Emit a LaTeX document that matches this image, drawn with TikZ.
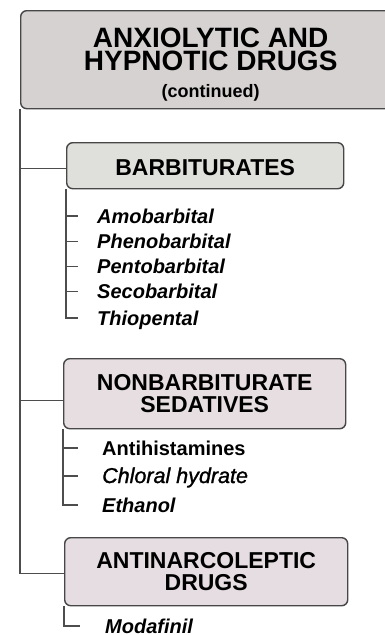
\documentclass[tikz,border=0pt]{standalone}
\usepackage{fontspec}
\setmainfont{Liberation Sans}
\newfontface\chloralface{Liberation Sans Italic}[FakeBold=1.2]
\usetikzlibrary{positioning}

\definecolor{titlegray}{HTML}{D6D2D2}
\definecolor{barbfill}{HTML}{DFDFDB}
\definecolor{nonbfill}{HTML}{E7DEE2}
\definecolor{antifill}{HTML}{E6DDE2}
\definecolor{boxedge}{HTML}{474747}
\definecolor{linegray}{HTML}{4D4D4D}

\begin{document}
\begin{tikzpicture}[x=1pt, y=-1pt,
    grp/.style={draw=boxedge, line width=1.4pt, rounded corners=6pt, anchor=north west,
      align=center, font=\bfseries\fontsize{23}{22}\selectfont},
    drug/.style={anchor=west, inner sep=0pt, text height=14pt, text depth=0pt,
      font=\bfseries\itshape\fontsize{20}{24}\selectfont},
    link/.style={draw=linegray, line width=1.3pt}
  ]
  \useasboundingbox[fill=white] (0,0) rectangle (384,635);

  % heading box, runs off the right edge
  \node[grp, fill=titlegray, minimum width=380pt, minimum height=98pt,
    font=\bfseries\fontsize{28}{23.5}\selectfont] (title) at (20,10)
    {\rule{0pt}{29pt}ANXIOLYTIC AND\\HYPNOTIC DRUGS\\[3.5pt]{\fontsize{18}{20}\selectfont(continued)}};

  % groups
  \node[grp, fill=barbfill, minimum width=277pt, minimum height=46pt,
    text height=20pt, text depth=0pt] (barb) at (66,142) {BARBITURATES};
  \node[grp, fill=nonbfill, minimum width=282pt, minimum height=70pt] (nonbarb) at (63,358)
    {NONBARBITURATE\\SEDATIVES};
  \node[grp, fill=antifill, minimum width=283pt, minimum height=68pt] (antinarc) at (64,537)
    {ANTINARCOLEPTIC\\DRUGS};

  % drugs
  \node[drug] (amob) at (97,216) {Amobarbital};
  \node[drug] (pheno) at (97,241.5) {Phenobarbital};
  \node[drug] (pento) at (97,266.5) {Pentobarbital};
  \node[drug] (seco) at (97,291.5) {Secobarbital};
  \node[drug] (thio) at (97,318) {Thiopental};

  \node[drug, font=\bfseries\fontsize{20}{24}\selectfont] (antih) at (102,448) {Antihistamines};
  \node[drug, font=\chloralface\fontsize{21.5}{24}\selectfont] (chloral) at (102,476) {Chloral hydrate};
  \node[drug] (ethanol) at (102,505) {Ethanol};

  \node[drug] (modaf) at (105,626) {Modafinil};

  % trunk
  \draw[link] (title.south west) |- ([yshift=-3pt]barb.west);
  \draw[link] (title.south west) |- ([yshift=-7pt]nonbarb.west);
  \draw[link] (title.south west) |- ([yshift=-2pt]antinarc.west);

  % branches
  \draw[link] (barb.south west) |- ([xshift=-19pt]thio.west);
  \foreach \d in {amob,pheno,pento,seco}
    \draw[link] (\d.west -| barb.south west) -- ([xshift=-19pt]\d.west);

  \draw[link] (nonbarb.south west) |- ([xshift=-24pt]ethanol.west);
  \foreach \d in {antih,chloral}
    \draw[link] (\d.west -| nonbarb.south west) -- ([xshift=-24pt]\d.west);

  \draw[link] (antinarc.south west) |- ([xshift=-25pt]modaf.west);
\end{tikzpicture}
\end{document}
